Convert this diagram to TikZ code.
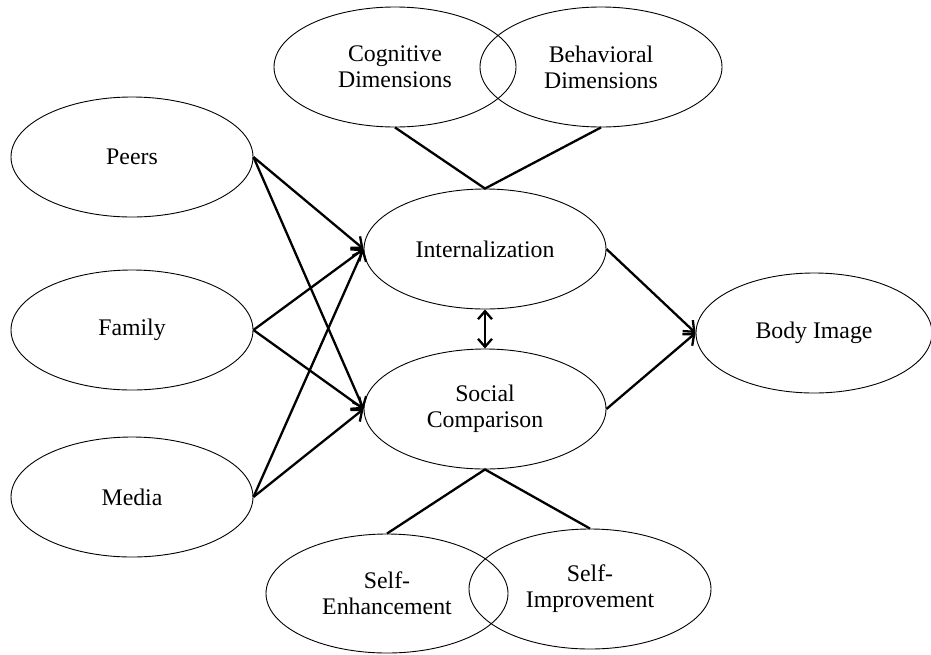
\documentclass[tikz,border=0pt]{standalone}
\usepackage{fontspec}
\setmainfont{Liberation Serif}
\usetikzlibrary{shapes.geometric,arrows.meta}
\begin{document}
\begin{tikzpicture}[x=1pt,y=-1pt,
  oval/.style={ellipse,draw,line width=0.9pt,inner sep=0pt,minimum width=242pt,minimum height=120pt,align=center,font=\fontsize{23.8}{26}\selectfont},
  link/.style={line width=2.3pt},
  arr/.style={line width=2.3pt,-{Straight Barb[length=9pt,width=15pt,line width=2.3pt]}},
  darr/.style={line width=2.3pt,{Straight Barb[length=8pt,width=14pt,line width=2.3pt]}-{Straight Barb[length=8pt,width=14pt,line width=2.3pt]}}]
\useasboundingbox (0,0) rectangle (931,654);
\node[oval] (peers) at (132,157) {Peers};
\node[oval] (family) at (132,330) {Family};
\node[oval] (media) at (132,497) {Media};
\node[oval] (cog) at (395,67) {Cognitive\\Dimensions};
\node[oval] (beh) at (601,67) {Behavioral\\Dimensions};
\node[oval] (int) at (485,249) {Internalization};
\node[oval] (soc) at (485,409) {Social\\Comparison};
\node[oval,minimum width=236pt] (body) at (814,333) {Body Image};
\node[oval,minimum height=119pt] (senh) at (387,593.5) {Self-\\Enhancement};
\node[oval] (simp) at (590,589) {Self-\\Improvement};
\draw[link] (cog.south) -- (int.north) -- (beh.south);
\draw[link] (senh.north) -- (soc.south) -- (simp.north);
\foreach \s in {peers,family,media}{
  \draw[arr] (\s.east) -- (int.west);
  \draw[arr] (\s.east) -- (soc.west);
}
\draw[arr] (int.east) -- (body.west);
\draw[arr] (soc.east) -- (body.west);
\draw[darr] (int.south) -- (soc.north);
\end{tikzpicture}
\end{document}
